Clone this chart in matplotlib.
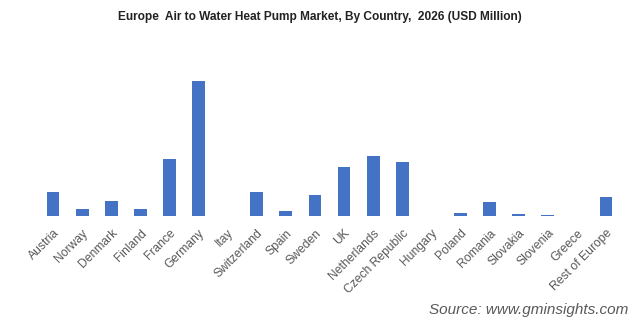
import matplotlib.pyplot as plt

plt.rcParams['font.family'] = ['Liberation Sans', 'DejaVu Sans']

# categories and estimated values (relative scale)
countries = ["Austria", "Norway", "Denmark", "Finland", "France", "Germany", "Itay",
             "Switzerland", "Spain", "Sweden", "UK", "Netherlands", "Czech Republic",
             "Hungary", "Poland", "Romania", "Slovakia", "Slovenia", "Greece",
             "Rest of Europe"]
values = [24, 7, 15, 7, 57, 135, 0, 24, 5, 21, 49, 60, 54, 0, 3, 14, 2, 1, 0, 19]

fig = plt.figure(figsize=(6.4, 3.25), dpi=100)
ax = fig.add_axes([38.5 / 640, 1 - 216 / 325, (620.5 - 38.5) / 640, 166 / 325])

x = range(len(countries))
ax.bar(x, values, width=0.44, color='#4472C4')
ax.set_xlim(-0.5, len(countries) - 0.5)
ax.set_ylim(0, 166)

ax.set_xticks(list(x))
ax.set_xticklabels(countries, rotation=45, ha='right', rotation_mode='anchor',
                   fontsize=8.7, color='#595959')
ax.tick_params(axis='x', length=0, pad=8)
ax.set_yticks([])
for s in ax.spines.values():
    s.set_visible(False)

fig.text(0.5, 1 - 17 / 325, 'Europe  Air to Water Heat Pump Market, By Country,  2026 (USD Million)',
         ha='center', va='center', fontsize=8.6, fontweight='bold', color='#222222')
fig.text(628 / 640, 1 - 310 / 325, 'Source: www.gminsights.com', ha='right', va='center',
         fontsize=11, style='italic', color='#595959')

fig.savefig('out.png', dpi=100)
